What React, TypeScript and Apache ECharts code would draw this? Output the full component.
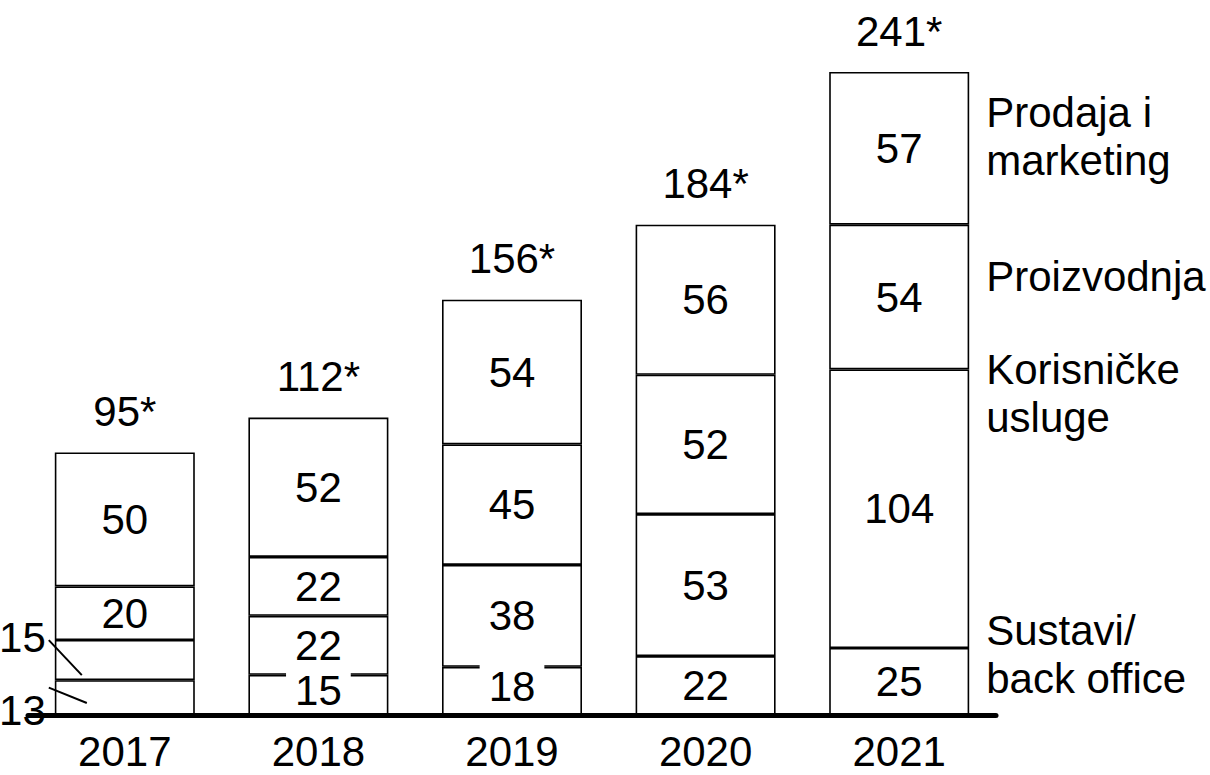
import React, { useEffect, useRef } from 'react';
import * as echarts from 'echarts';

const years = ['2017', '2018', '2019', '2020', '2021'];
const sustavi = [13, 15, 18, 22, 25];
const korisnicke = [15, 22, 38, 53, 104];
const proizvodnja = [20, 22, 45, 52, 54];
const prodaja = [50, 52, 54, 56, 57];
const totalLabels = ['95*', '112*', '156*', '184*', '241*'];
const seriesNames = ['Sustavi/\nback office', 'Korisničke\nusluge', 'Proizvodnja', 'Prodaja i\nmarketing'];

const FONT = "'Liberation Sans', Arial, Helvetica, sans-serif";
const FS = 42;
const BAR_W = 140;

export default function App() {
  const ref = useRef<HTMLDivElement>(null);
  useEffect(() => {
    const chart = echarts.init(ref.current!, null, { renderer: 'svg' });
    const stacks = [sustavi, korisnicke, proizvodnja, prodaja];
    const makeData = (arr: number[], si: number) =>
      arr.map((v, i) => {
        if (i === 0 && si === 0) return { value: v, label: { position: 'left', distance: 9, offset: [0, 13] } };
        if (i === 0 && si === 1) return { value: v, label: { position: 'left', distance: 9, offset: [0, -23] } };
        if (si === 0 && (i === 1 || i === 2))
          return { value: v, label: { backgroundColor: '#fff', padding: [2, 9], offset: [0, -4] } };
        return v;
      });
    const series: any[] = stacks.map((arr, si) => ({
      type: 'bar',
      name: seriesNames[si],
      stack: 'a',
      barWidth: BAR_W,
      z: si === 0 ? 4 : 2,
      data: makeData(arr, si),
      itemStyle: { color: '#fff', borderColor: '#000', borderWidth: 1.6 },
      label: { show: true, position: 'inside', color: '#000', fontSize: FS, fontFamily: FONT },
      emphasis: { disabled: true },
    }));
    series.push({
      type: 'bar',
      name: 'total',
      stack: 'a',
      barWidth: BAR_W,
      data: years.map(() => 0),
      itemStyle: { color: 'rgba(0,0,0,0)', borderWidth: 0 },
      label: {
        show: true,
        position: 'top',
        distance: 20,
        color: '#000',
        fontSize: FS,
        fontFamily: FONT,
        formatter: (p: any) => totalLabels[p.dataIndex],
      },
      emphasis: { disabled: true },
    });
    chart.setOption({
      animation: false,
      backgroundColor: '#fff',
      grid: { left: 28, right: 214, top: 72, bottom: 60 },
      xAxis: {
        type: 'category',
        data: years,
        z: 10,
        axisTick: { show: false },
        axisLine: { lineStyle: { color: '#000', width: 5 } },
        axisLabel: { color: '#000', fontSize: FS, fontFamily: FONT, margin: 20, lineHeight: 32 },
      },
      yAxis: { type: 'value', min: 0, max: 240, show: false, splitLine: { show: false } },
      series,
    });

    const xPix = (i: number) => chart.convertToPixel({ xAxisIndex: 0 }, years[i]) as number;
    const yPix = (v: number) => chart.convertToPixel({ yAxisIndex: 0 }, v) as number;
    const graphics: any[] = [];
    // right-side names next to the last bar
    const last = years.length - 1;
    const rightX = xPix(last) + BAR_W / 2 + 17;
    const offsets = [6, 24, 52, 64];
    let cum = 0;
    stacks.forEach((arr, si) => {
      const top = yPix(cum + arr[last]);
      cum += arr[last];
      graphics.push({
        type: 'text',
        x: rightX,
        y: top + offsets[si],
        style: {
          text: seriesNames[si],
          fontSize: FS,
          fontFamily: FONT,
          lineHeight: 48,
          fill: '#000',
          verticalAlign: 'middle',
          align: 'left',
        },
      });
    });
    // leader lines for 2017 small segments
    const barLeft = xPix(0) - BAR_W / 2;
    const s13c = yPix(sustavi[0] / 2);
    const s13b = yPix(0);
    const s15c = yPix(sustavi[0] + korisnicke[0] / 2);
    const s15b = yPix(sustavi[0]);
    graphics.push({
      type: 'line',
      z: 20,
      shape: { x1: barLeft - 6, y1: s15c - 20, x2: barLeft + 27, y2: s15b - 5 },
      style: { stroke: '#000', lineWidth: 2 },
    });
    graphics.push({
      type: 'line',
      z: 20,
      shape: { x1: barLeft - 6, y1: s13c - 10, x2: barLeft + 32, y2: s13b - 12 },
      style: { stroke: '#000', lineWidth: 2 },
    });
    chart.setOption({ graphic: graphics });

    return () => chart.dispose();
  }, []);
  return (
    <div
      ref={ref}
      style={{ position: 'fixed', left: 0, top: 0, width: 1210, height: 775, background: '#fff' }}
    />
  );
}
